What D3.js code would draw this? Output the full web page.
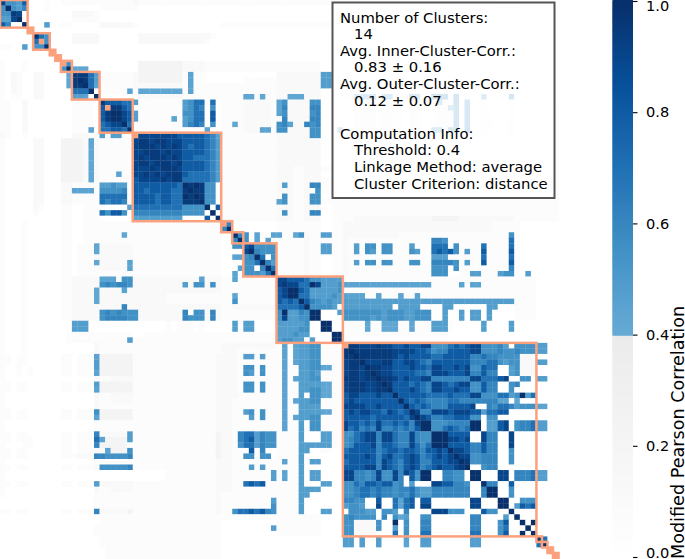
<!DOCTYPE html>
<html><head><meta charset="utf-8">
<style>html,body{margin:0;padding:0;background:#fff;overflow:hidden}svg{display:block}text{font-family:"DejaVu Sans";fill:#000}</style>
<script src="https://cdn.jsdelivr.net/npm/d3@7"></script>
</head><body><svg id="c" width="685" height="559"></svg>
<script>
// value read for each symbol used in the matrix rows; X marks an undefined diagonal cell
const levelSymbols=["0","1","2","3","a","b","c","d","e","f","g","h","i","j","k"];
const levelValues=[0.005,0.05,0.12,0.21,0.41,0.43,0.45,0.48,0.55,0.61,0.7,0.8,0.9,0.95,1.0];
const clusterStarts=[0,5,6,9,10,11,13,18,24,40,42,44,50,62,97,98,99,100,101];
const colorbarTicks=[0,0.2,0.4,0.6,0.8,1.0];
const infoLines=[["Number of Clusters:",0],["14",1],["Avg. Inner-Cluster-Corr.:",0],["0.83 \u00b1 0.16",1],["Avg. Outer-Cluster-Corr.:",0],["0.12 \u00b1 0.07",1],["",0],["Computation Info:",0],["Threshold: 0.4",1],["Linkage Method: average",1],["Cluster Criterion: distance",1]];
// lower triangle of the symmetric matrix, one row per series
const rows=[
"i","ek","eej","ddik","hf00k","00000X","000000k","000000gX","1100d0eek","000000000X",
"0000000000 X","1000100000 0X","1000100000 0ek",
"1021002200 00b j","1021002200 00b jk","1021002200 00b jjk","1021002200 000 ggg k","1011002200 000 ddc 0k",
"1100200000 00011110j","1100200000 00011110hX","1100200000 00011110hj k","1100200000 00011110hj kk","1100200000 00011110gh iik","1100200000 000111c0gg hhgk",
"2100100000 0002221 1d1 dd11X",
"1000002200 033332b211 1111ij",
"1000002200 033332b211 1111ijj",
"1000002200 033332b211 1111iijj",
"1000002200 033332b211 1111ijijj",
"1000002200 033332b211 1111ijjijj",
"1000002200 033332b211 1111iiijij j",
"1000002200 033332b211 1c11iijiji jj",
"1000002200 033332b211 1111hiiiij ijj",
"1000002200 02211111dd edd1hhhhhh hhgk",
"1000002200 022cccc1ee eef1hhghhh hggjk",
"1000002200 02211111gg ggg1hhhhgh hggkjk",
"1000002200 02211111gf ggf1hhhhgh hggjjjk",
"1000002100 0110011110 000cgggggg gggeeeek",
"1000001000 01100111ge hhe0ffffff fffeeee0k",
"1000000000 0110011100 0000cddddd ddd0000h0k",
"1000100000 0110011111 1111111111 1111111111 X",
"1000100000 0110011111 1111111111 1111111111 fk",
"1000100000 0110011111 11b1111111 1111111111 00k",
"1000100000 0110011111 1111111111 1111111111 00fk",
"1000100000 0110111b22 2222111111 1111111111 00eeh",
"1000100000 0110111b22 2222111111 1111111111 0011ik",
"1000100000 0110111222 2222111111 1111111111 00ccefk",
"1000100000 0110111b22 222c111111 1111111111 0011eegk",
"1000100000 0110111222 222c111111 1111111111 001cee0fk",
"1000100000 0110111111 1111111111 1111111111 00c1eeedgk",
"1000100000 01122222cc c2ee222222 222222c222 11c1111111 i",
"1000100000 01122222ef effe222222 222d2ee2e2 1111111111 ij",
"1000100000 0112222b22 22c2222222 2222222222 1111111111 hik",
"1000100000 0112222b22 2222222222 1111111111 11b1111111 hikk",
"1000100000 0112222b22 2222222222 1111111111 11e1111111 hghgk",
"1000100000 0112222222 22f2222222 2222222222 1122222222 gggghk",
"1000100000 01122222ef efeee22222 222f0ee2f2 1111111111 ekddfek",
"1000100000 01122222ef fffee22222 222feee2f2 1111111111 eiddeekk",
"1000100000 000ddd0000 0000000000 1011101000 00d1dd0000 ddddde00k",
"1000100000 000ddd0000 0000000000 1011101000 00d1dd0000 ddddee00kk",
"1000100000 0011111111 1111001111 1111111111 1111111111 dddedd0000 k",
"1000100000 0011111111 111d111111 1111111111 1111111111 deedd0d000 kk",
"1000100000 0000000211 1111111111 1111111111 2222222222 1c1cddee11 11X",
"1000100000 0000000211 1111111111 1111111111 2221111111 1c1cddee11 11 jk",
"1101100000 0110111c33 3333111111 1111111112 2221dd1d11 1c1cddee11 11 jjk",
"1101100000 0110111d33 3333111111 1111111112 2221111111 1c1cddee11 11 ijjk",
"1001010000 0110111d33 3333111111 1111111112 2221ee1e11 1c11ddeebb 11 ijjik",
"1001010000 0110111c33 3333111111 1111111112 2221ed1e11 1c11dded11 11 ijjijk",
"1000000000 0000000211 2222111111 1111111112 2221111111 1c1cddee11 11 jjjijjk",
"1101100000 0110111d33 3333111111 1111111112 2221ee1e11 1c11ddddbb 11 ijjjiijk",
"1101100000 0110111c33 3333111111 1111111112 2221ee1e11 1c11ddeebb 11 ijjjiijjk",
"1000000000 0000000211 2222111111 1111111112 2221111111 1c11d0eebb 11 hiihhhihhk",
"1000000000 0000000211 2222111111 1111111112 2211111111 1c1cddee11 11 hihhhhhhhhk",
"1000000000 0000000211 1111111111 1111111112 2211111111 1c11dddd11 11 iiiihhihhhhk",
"1101100000 0110111e33 3333111111 1111111112 2211de1e11 1c11ddddbb 11 hihiihhgihghk",
"1101100000 0110111c33 3333111111 1111111112 22111d1e11 1c1cddee11 11 hhhhhghhhhhgik",
"1000000000 0000000111 1111111111 1111111112 2211111111 1c11d0ee11 11 ihhghgigghghfik",
"1000000000 0000000111 1111111111 1111111112 2211111111 1c11d1ee11 11 ighfgfiffgfgfhkk",
"1101100000 0110111f22 222d111111 1111111113 221fggdfee 1111d000dd 11 eeghiifiigffifeek",
"1101110000 0110111gc3 333d111111 1111111113 221fghdfee 1111d000dd 11 efghiifiigffifeekk",
"1000110000 0110111f33 3331111111 1111111113 221eggdfee 1111dddddd 11 efhhhifhhgffigegkkk",
"1101100000 011011122c 333e111111 1111111113 22111h1f00 1111dd0011 00 ghhhhhfghhghhgfhhihk",
"1101100000 0111222ffe eeef111111 1111111113 2211ee1ee0 1111d00000 00 hhhhihfhigghihfghihik",
"1000000000 0000000111 1111111111 1111111112 2211111111 1c11d0dd00 00 ghhhhhfihgfhihffhhhiik",
"1101100000 01101112ee eeef111111 1111111112 22111d1d11 1111d00000 00 hhhhiifihgfhihfghihhijk",
"1000000000 0000000000 0000000000 1111111112 221111111d 1c11d0dd00 00 iiffefieeifihekk00ffee0k",
"1000000000 0000000000 0000000000 1111111112 221111111d 1c11d0dd00 00 iiffefieeif0hekk00ffee0kk",
"1101100000 0110111d22 2222111111 1111111112 2211ghgh11 1111d000dd 00 eegfhhghhef0d000iihhffe00k",
"1000000000 0000000211 2222111111 1111111112 2211111111 1111dddd00 00 eefggfgffeffgeddfffffff00fk",
"1000000000 0000000111 1111111111 1111111112 1111111111 1111dd0000 00 eefggfgffefegeddfffffff00fkk",
"0000000000 0000000111 1111111111 1111111112 111111111d 1111d00000 00 ffee00h00gcgh0hh0000000ii000k",
"0000000000 0000000111 1111111111 1111111112 111111111e 1111d00000 00 deed00i00gcgh0ii0000000ii000kk",
"1101100000 0110111f22 2223111111 1111111112 11egghghfe 1111d000dd 00 0eeedd0eed0f0000iiieee000hee00k",
"0000000000 0000000011 1111111111 1111111111 1111111111 1111111100 00 efeeee0f0ebd00ee0000000ff0000d0k",
"0000000000 0000000011 1111111111 1111111111 0000000000 1111111100 00 ee2222e00k0e00ff0000000ff000eh00k",
"0000000000 0000000111 1111111111 1111111111 000000000d 1111111100 00 ee2222e00d0e00ff0000000ff000eg000k",
"0000000000 0000000111 1111111111 1111111111 0000000000 1111111100 00 ee2222000g0e00gg0000000gg000eh00k0k",
"0000000000 0000000011 1111111111 1111111111 0000000000 0000000000 00dd0d00d0 000c00dd00 00000dd000 0000000k",
"0000000000 0000000011 1111111111 1111111111 0000000000 0000000000 00dd0d00d0 000c00dd00 00000dd000 0000000gk",
"0000000000 0000000001 1111111111 1111111111 0000000000 0000000000 0000000000 0000000000 0000000000 000000000X",
"0000000000 0000000001 1111111111 1111111111 0000000000 0000000000 0000000000 0000000000 0000000000 0000000000 X"
];

const svg=d3.select("#c");
const n=rows.length;
const index=d3.range(n);
const x=d3.scaleBand().domain(index).range([0,n*5.53]);
const levelOf=new Map(levelSymbols.map((s,i)=>[s,levelValues[i]]));
const color=d3.scaleLinear().domain([0,0.3999,0.4,0.55,0.7,0.85,1]).range(["#ffffff","#ebebeb","#68abd5","#4292c6","#2171b5","#08519c","#08306b"]);
const BAD="#fca17d";
const cells=[];
rows.forEach((s,r)=>{[...s.replace(/\s/g,"")].forEach((ch,c)=>{
  const v=ch==="X"?null:levelOf.get(ch);
  cells.push({r,c,v}); if(r!==c) cells.push({r:c,c:r,v});
});});
const g=svg.append("g").style("filter","blur(0.45px)");
g.selectAll("rect.cell").data(cells).join("rect").attr("class","cell")
 .attr("x",d=>x(d.c)).attr("y",d=>x(d.r)).attr("width",x.bandwidth()+0.3).attr("height",x.bandwidth()+0.3)
 .attr("fill",d=>d.v===null?BAD:color(d.v));
g.selectAll("rect.box").data(d3.pairs(clusterStarts)).join("rect").attr("class","box")
 .attr("x",d=>x(d[0])).attr("y",d=>x(d[0])).attr("width",d=>(d[1]-d[0])*x.step()).attr("height",d=>(d[1]-d[0])*x.step())
 .attr("fill","none").attr("stroke",BAD).attr("stroke-width",2.5);

// info box
svg.append("rect").attr("x",332.5).attr("y",2.5).attr("width",222).attr("height",195.5)
 .attr("fill","#fff").attr("fill-opacity",0.8).attr("stroke","#555").attr("stroke-width",2);
const lineY=d3.scaleLinear().domain([0,10]).range([22.5,188.7]);
svg.append("g").selectAll("text").data(infoLines).join("text")
 .attr("x",d=>d[1]?354:340).attr("y",(d,i)=>lineY(i)).attr("font-size",14.8).text(d=>d[0]);

// colorbar
const cy=d3.scaleLinear().domain([0,1]).range([557,1]);
const steps=d3.range(0,1.0005,0.002);
svg.append("g").selectAll("rect").data(steps).join("rect")
 .attr("x",612.5).attr("width",20.5).attr("y",d=>cy(d)-1).attr("height",2.2).attr("fill",d=>color(d));
const axis=d3.axisRight(cy).tickValues(colorbarTicks).tickFormat(d3.format(".1f")).tickSize(4.5).tickPadding(8.5);
const ag=svg.append("g").attr("transform","translate(633,0)").call(axis);
ag.select(".domain").remove();
ag.selectAll("line").attr("stroke","#000").attr("stroke-width",1.1);
ag.selectAll("text").attr("font-size",14.6).style("font-family","DejaVu Sans").attr("fill","#000")
  .attr("y",d=>d===1?5:d===0?-4:0);
svg.append("text").attr("transform","translate(684,559) rotate(-90)").attr("font-size",17.6).text("Modified Pearson Correlation");
</script></body></html>
